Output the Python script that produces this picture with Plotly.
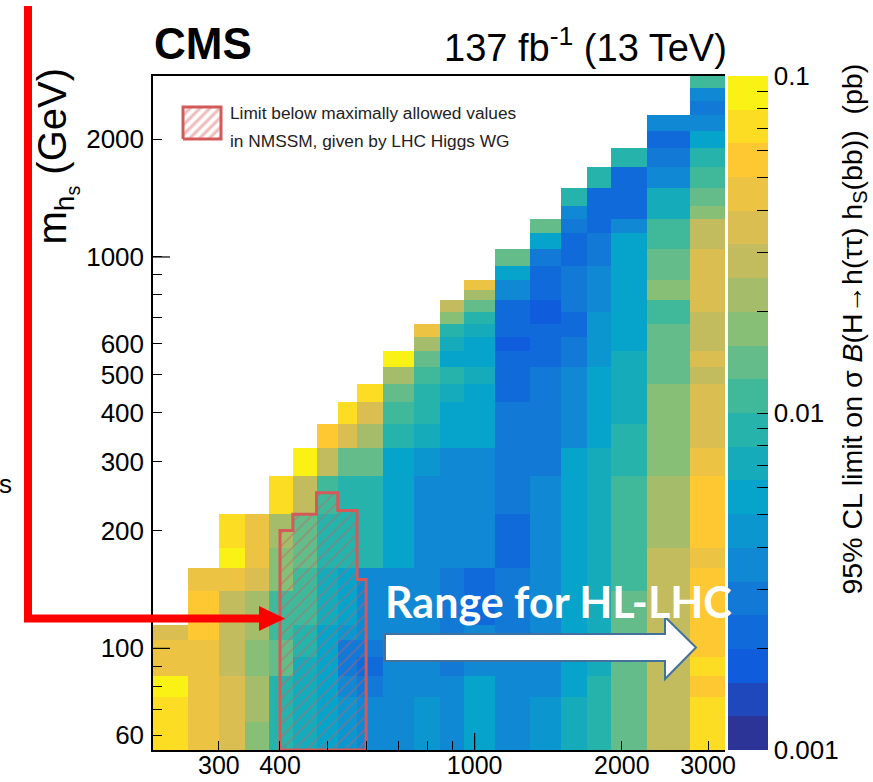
import math
import plotly.graph_objects as go

# ---------------- data ----------------
mH = [240, 280, 320, 360, 400, 450, 500, 550, 600, 700, 800, 900, 1000,
      1200, 1400, 1600, 1800, 2000, 2500, 3000]
mhs = [60, 70, 80, 90, 100, 110, 120, 130, 150, 170, 190, 250, 300, 350, 400,
       450, 500, 550, 600, 650, 700, 750, 800, 850, 900, 1000, 1100, 1200,
       1300, 1400, 1600, 1800, 2000, 2200, 2400, 2600, 2800]

# 95% CL limits (pb) per m_H column, listed from lowest m_hs upward
lim_240 = [0.071, 0.071, 0.089, 0.045, 0.045, 0.035]
lim_280 = [0.045, 0.045, 0.045, 0.045, 0.045, 0.056, 0.056, 0.056, 0.045]
lim_320 = [0.035, 0.035, 0.035, 0.028, 0.028, 0.028, 0.028, 0.028, 0.045, 0.089, 0.071]
lim_360 = [0.018, 0.022, 0.022, 0.018, 0.018, 0.022, 0.022, 0.022, 0.035, 0.045, 0.045]
lim_400 = [0.0089, 0.0089, 0.0089, 0.014, 0.014, 0.011, 0.011, 0.011, 0.018, 0.018, 0.022, 0.071]
lim_450 = [0.0071, 0.0071, 0.0071, 0.0071, 0.0089, 0.0089, 0.011, 0.011, 0.011, 0.014, 0.014, 0.028, 0.089]
lim_500 = [0.0056, 0.0056, 0.0056, 0.0056, 0.0056, 0.0056, 0.0071, 0.0071, 0.0071, 0.0089, 0.0089, 0.011, 0.028, 0.056]
lim_550 = [0.0045, 0.0045, 0.0035, 0.0028, 0.0028, 0.0045, 0.0056, 0.0056, 0.0056, 0.0089, 0.0089, 0.0089, 0.014, 0.035, 0.071]
lim_600 = [0.0035, 0.0035, 0.0028, 0.0022, 0.0028, 0.0035, 0.0035, 0.0035, 0.0035, 0.0089, 0.0089, 0.0089, 0.014, 0.022, 0.035, 0.071]
lim_700 = [0.0035, 0.0035, 0.0035, 0.0035, 0.0035, 0.0035, 0.0035, 0.0035, 0.0035, 0.0056, 0.0056, 0.0056, 0.0056, 0.0089, 0.011, 0.014, 0.022, 0.089]
lim_800 = [0.0045, 0.0045, 0.0035, 0.0035, 0.0035, 0.0035, 0.0035, 0.0035, 0.0035, 0.0035, 0.0035, 0.0035, 0.0045, 0.0071, 0.0089, 0.0089, 0.011, 0.014, 0.022, 0.045]
lim_900 = [0.0035, 0.0035, 0.0035, 0.0028, 0.0028, 0.0028, 0.0028, 0.0028, 0.0028, 0.0035, 0.0035, 0.0035, 0.0035, 0.0056, 0.0056, 0.0071, 0.0089, 0.0056, 0.0071, 0.0089, 0.018, 0.028]
lim_1000 = [0.0056, 0.0056, 0.0056, 0.0035, 0.0035, 0.0035, 0.0022, 0.0022, 0.0022, 0.0035, 0.0035, 0.0035, 0.0035, 0.0056, 0.0056, 0.0056, 0.0071, 0.0056, 0.0056, 0.0071, 0.0089, 0.014, 0.022, 0.045]
lim_1200 = [0.0035, 0.0035, 0.0035, 0.0035, 0.0035, 0.0028, 0.0028, 0.0028, 0.0028, 0.0022, 0.0022, 0.0028, 0.0028, 0.0028, 0.0028, 0.0022, 0.0022, 0.0022, 0.0016, 0.0022, 0.0022, 0.0022, 0.0035, 0.0035, 0.0056, 0.014]
lim_1400 = [0.0045, 0.0045, 0.0035, 0.0035, 0.0035, 0.0035, 0.0035, 0.0035, 0.0035, 0.0035, 0.0035, 0.0035, 0.0028, 0.0028, 0.0028, 0.0028, 0.0028, 0.0022, 0.0022, 0.0022, 0.0016, 0.0016, 0.0022, 0.0022, 0.0022, 0.0028, 0.0056, 0.014]
lim_1600 = [0.0071, 0.0071, 0.0056, 0.0056, 0.0056, 0.0056, 0.0056, 0.0056, 0.0056, 0.0056, 0.0056, 0.0056, 0.0056, 0.0035, 0.0035, 0.0035, 0.0035, 0.0028, 0.0028, 0.0022, 0.0022, 0.0028, 0.0028, 0.0028, 0.0028, 0.0022, 0.0022, 0.0028, 0.0035, 0.0089]
lim_1800 = [0.0089, 0.0089, 0.0089, 0.0071, 0.0071, 0.0071, 0.0071, 0.0071, 0.0071, 0.0071, 0.0071, 0.0071, 0.0071, 0.0056, 0.0056, 0.0056, 0.0056, 0.0045, 0.0045, 0.0045, 0.0045, 0.0035, 0.0035, 0.0035, 0.0035, 0.0028, 0.0028, 0.0022, 0.0022, 0.0022, 0.0089]
lim_2000 = [0.014, 0.014, 0.014, 0.014, 0.014, 0.014, 0.014, 0.014, 0.011, 0.011, 0.011, 0.011, 0.0089, 0.0089, 0.0071, 0.0071, 0.0071, 0.0071, 0.0056, 0.0056, 0.0056, 0.0056, 0.0056, 0.0056, 0.0056, 0.0056, 0.0056, 0.0035, 0.0022, 0.0022, 0.0022, 0.0089]
lim_2500 = [0.028, 0.028, 0.028, 0.028, 0.028, 0.028, 0.028, 0.028, 0.028, 0.028, 0.022, 0.022, 0.018, 0.018, 0.018, 0.018, 0.014, 0.014, 0.014, 0.014, 0.011, 0.011, 0.018, 0.018, 0.014, 0.014, 0.011, 0.011, 0.0071, 0.0071, 0.0035, 0.0028, 0.0022, 0.0035]
lim_3000 = [0.071, 0.071, 0.056, 0.071, 0.056, 0.056, 0.056, 0.056, 0.056, 0.045, 0.056, 0.056, 0.045, 0.035, 0.035, 0.035, 0.028, 0.035, 0.028, 0.028, 0.028, 0.035, 0.035, 0.035, 0.035, 0.035, 0.028, 0.028, 0.018, 0.014, 0.011, 0.0089, 0.0056, 0.0035, 0.0028, 0.0035, 0.011]

limits = [lim_240, lim_280, lim_320, lim_360, lim_400, lim_450, lim_500, lim_550,
          lim_600, lim_700, lim_800, lim_900, lim_1000, lim_1200, lim_1400,
          lim_1600, lim_1800, lim_2000, lim_2500, lim_3000]

# NMSSM region (step outline) where the limit is below the maximally allowed value
hatch_mH = [400, 400, 425, 425, 475, 475, 525, 525, 575, 575, 600, 600, 400]
hatch_mhs = [55, 200, 200, 220, 220, 250, 250, 225, 225, 150, 150, 55, 55]

x_ticks = [300, 400, 500, 600, 700, 800, 900, 1000, 2000, 3000]
x_ticktext = ["300", "400", "", "", "", "", "", "1000", "2000", "3000"]
x_long_ticks = [1000]
y_ticks = [60, 70, 80, 90, 100, 200, 300, 400, 500, 600, 700, 800, 900, 1000, 2000]
y_ticktext = ["60", "", "", "", "100", "200", "300", "400", "500", "600", "", "", "", "1000", "2000"]
y_long_ticks = [100, 1000]
cb_major = [0.001, 0.01, 0.1]
cb_major_text = ["0.001", "0.01", "0.1"]
cb_minor = [0.002, 0.003, 0.004, 0.005, 0.006, 0.007, 0.008, 0.009,
            0.02, 0.03, 0.04, 0.05, 0.06, 0.07, 0.08, 0.09]
cb_long_ticks = [0.01]


# ---------------- helpers ----------------
def bin_edges(c):
    e = [c[0] - (c[1] - c[0]) / 2]
    for a, b in zip(c[:-1], c[1:]):
        e.append((a + b) / 2)
    e.append(c[-1] + (c[-1] - c[-2]) / 2)
    return e


x_edges = bin_edges(mH)
y_edges = bin_edges(mhs)

z = []
for i in range(len(mhs)):
    row = []
    for j in range(len(mH)):
        col = limits[j]
        row.append(math.log10(col[i]) if i < len(col) else None)
    z.append(row)

# ROOT kBird palette, 20 discrete contour levels
bird_s = [0.0, 0.125, 0.25, 0.375, 0.5, 0.625, 0.75, 0.875, 1.0]
bird_r = [0.2082, 0.0592, 0.0780, 0.0232, 0.1802, 0.5301, 0.8186, 0.9956, 0.9764]
bird_g = [0.1664, 0.3599, 0.5041, 0.6419, 0.7178, 0.7492, 0.7328, 0.7862, 0.9832]
bird_b = [0.5293, 0.8684, 0.8385, 0.7914, 0.6425, 0.4662, 0.3499, 0.1968, 0.0539]


def bird(t):
    for k in range(len(bird_s) - 1):
        if bird_s[k] <= t <= bird_s[k + 1]:
            f = (t - bird_s[k]) / (bird_s[k + 1] - bird_s[k])
            r = bird_r[k] + (bird_r[k + 1] - bird_r[k]) * f
            g = bird_g[k] + (bird_g[k + 1] - bird_g[k]) * f
            b = bird_b[k] + (bird_b[k + 1] - bird_b[k]) * f
            return "rgb(%d,%d,%d)" % (round(r * 255), round(g * 255), round(b * 255))
    return "rgb(249,251,14)"


NB = 20
colorscale = []
for k in range(NB):
    c = bird((k + 0.5) / NB)
    colorscale.append([k / NB, c])
    colorscale.append([(k + 1) / NB, c])

# pixel -> paper helpers (plot area: x 153..725, y 76..750)
L, R, T, B = 153, 725, 76, 750


def px(x):
    return (x - L) / (R - L)


def py(y):
    return (B - y) / (B - T)


RED_H = "#D45A5A"
FONT = "Liberation Sans, Arial, sans-serif"

fig = go.Figure()

fig.add_trace(go.Heatmap(
    x=x_edges, y=y_edges, z=z,
    zmin=-3, zmax=-1, colorscale=colorscale,
    hoverongaps=False,
    colorbar=dict(
        x=px(728), xanchor="left", xpad=0, ypad=0,
        y=0.5, yanchor="middle", len=1, lenmode="fraction",
        thickness=40, thicknessmode="pixels", outlinewidth=0,
        tickvals=[math.log10(v) for v in cb_major + cb_minor],
        ticktext=cb_major_text + [""] * len(cb_minor),
        ticks="inside", ticklen=11, tickwidth=1, tickcolor="black",
        tickfont=dict(family=FONT, size=26, color="black"),
    ),
))

fig.add_trace(go.Scatter(
    x=hatch_mH, y=hatch_mhs, mode="lines", fill="toself",
    fillcolor="rgba(0,0,0,0)",
    fillpattern=dict(shape="/", fgcolor=RED_H, bgcolor="rgba(0,0,0,0)",
                     size=9, solidity=0.17),
    line=dict(color=RED_H, width=3),
    hoverinfo="skip", showlegend=False,
))

# legend symbol on an auxiliary 0..1 overlay
lx0, lx1, ly0, ly1 = px(183), px(221), py(139), py(107)
fig.add_trace(go.Scatter(
    x=[lx0, lx1, lx1, lx0, lx0], y=[ly0, ly0, ly1, ly1, ly0],
    xaxis="x2", yaxis="y2", mode="lines", fill="toself",
    fillcolor="white",
    fillpattern=dict(shape="/", fgcolor="#E07C7C", bgcolor="white",
                     size=7, solidity=0.45),
    line=dict(color=RED_H, width=3),
    hoverinfo="skip", showlegend=False,
))

shapes = []
# longer major ticks (ROOT style)
for v in x_long_ticks:
    shapes.append(dict(type="line", xref="x", yref="paper", x0=v, x1=v, y0=0, y1=17 / (B - T),
                       line=dict(color="black", width=1.2), layer="above"))
for v in y_long_ticks:
    shapes.append(dict(type="line", xref="paper", yref="y", x0=0, x1=17 / (R - L), y0=v, y1=v,
                       line=dict(color="black", width=1.2), layer="above"))
for v in cb_long_ticks:
    yv = (math.log10(v) + 3) / 2
    shapes.append(dict(type="line", xref="paper", yref="paper", x0=px(747), x1=px(768),
                       y0=yv, y1=yv, line=dict(color="black", width=1.2), layer="above"))
# red L-shaped pointer
shapes.append(dict(
    type="path", xref="paper", yref="paper",
    path="M %f %f L %f %f L %f %f" % (px(28), py(6), px(28), py(618.5), px(262), py(618.5)),
    line=dict(color="#FF0000", width=8), fillcolor="rgba(0,0,0,0)", layer="above"))
shapes.append(dict(
    type="path", xref="paper", yref="paper",
    path="M %f %f L %f %f L %f %f Z" % (px(259), py(606), px(285), py(618.5), px(259), py(631)),
    line=dict(color="#FF0000", width=0), fillcolor="#FF0000", layer="above"))
# white block arrow
ap = [(385, 634), (665, 634), (665, 617), (696, 647.5), (665, 679), (665, 661), (385, 661)]
path = "M " + " L ".join("%f %f" % (px(a), py(b)) for a, b in ap) + " Z"
shapes.append(dict(type="path", xref="paper", yref="paper", path=path,
                   line=dict(color="#41719C", width=2), fillcolor="white", layer="above"))

annotations = [
    dict(text="CMS", x=px(152), y=py(43), xanchor="left", yanchor="middle",
         font=dict(family=FONT, size=44, color="black", weight="bold")),
    dict(text="137 fb<sup>-1</sup> (13 TeV)", x=px(729), y=py(45), xanchor="right",
         yanchor="middle", font=dict(family=FONT, size=38, color="black")),
    dict(text="m<sub>h<sub>s</sub></sub> (GeV)", x=px(56), y=py(66), xanchor="center",
         yanchor="top", textangle=-90, font=dict(family=FONT, size=40, color="black")),
    dict(text="95% CL limit on \u03c3 <i>B</i>(H\u2192h(\u03c4\u03c4) h<sub>S</sub>(bb))  (pb)",
         x=px(853), y=py(62), xanchor="center", yanchor="top", textangle=-90,
         font=dict(family=FONT, size=28.5, color="black")),
    dict(text="Limit below maximally allowed values", x=px(228), y=py(113),
         xanchor="left", yanchor="middle", font=dict(family=FONT, size=17.3, color="#222222")),
    dict(text="in NMSSM, given by LHC Higgs WG", x=px(228), y=py(141),
         xanchor="left", yanchor="middle", font=dict(family=FONT, size=17.3, color="#222222")),
    dict(text="Range for HL-LHC", x=px(383), y=py(601), xanchor="left", yanchor="middle",
         font=dict(family="Lato, sans-serif", size=43, color="white", weight="bold")),
    dict(text="s", x=px(14), y=py(484), xanchor="right", yanchor="middle",
         font=dict(family=FONT, size=26, color="black")),
]
for a in annotations:
    a.update(xref="paper", yref="paper", showarrow=False)

axis_common = dict(showgrid=False, zeroline=False, showline=True, linecolor="black",
                   linewidth=1.5, ticks="inside", ticklen=9, tickwidth=1.2,
                   tickcolor="black", automargin=False)

fig.update_layout(
    width=873, height=782,
    margin=dict(l=L, r=873 - R, t=T, b=782 - B, autoexpand=False),
    paper_bgcolor="white", plot_bgcolor="white",
    xaxis=dict(type="log", range=[math.log10(x_edges[0]), math.log10(x_edges[-1])],
               tickvals=x_ticks, ticktext=x_ticktext, mirror=True,
               ticklabelstandoff=-8,
               tickfont=dict(family=FONT, size=25, color="black"), **axis_common),
    yaxis=dict(type="log", range=[math.log10(y_edges[0]), math.log10(y_edges[-1])],
               tickvals=y_ticks, ticktext=y_ticktext, mirror=False,
               ticklabelstandoff=2,
               tickfont=dict(family=FONT, size=26, color="black"), **axis_common),
    xaxis2=dict(overlaying="x", anchor="y2", range=[0, 1], visible=False),
    yaxis2=dict(overlaying="y", anchor="x2", range=[0, 1], visible=False),
    shapes=shapes, annotations=annotations, showlegend=False,
)

fig.write_html("out.html")
